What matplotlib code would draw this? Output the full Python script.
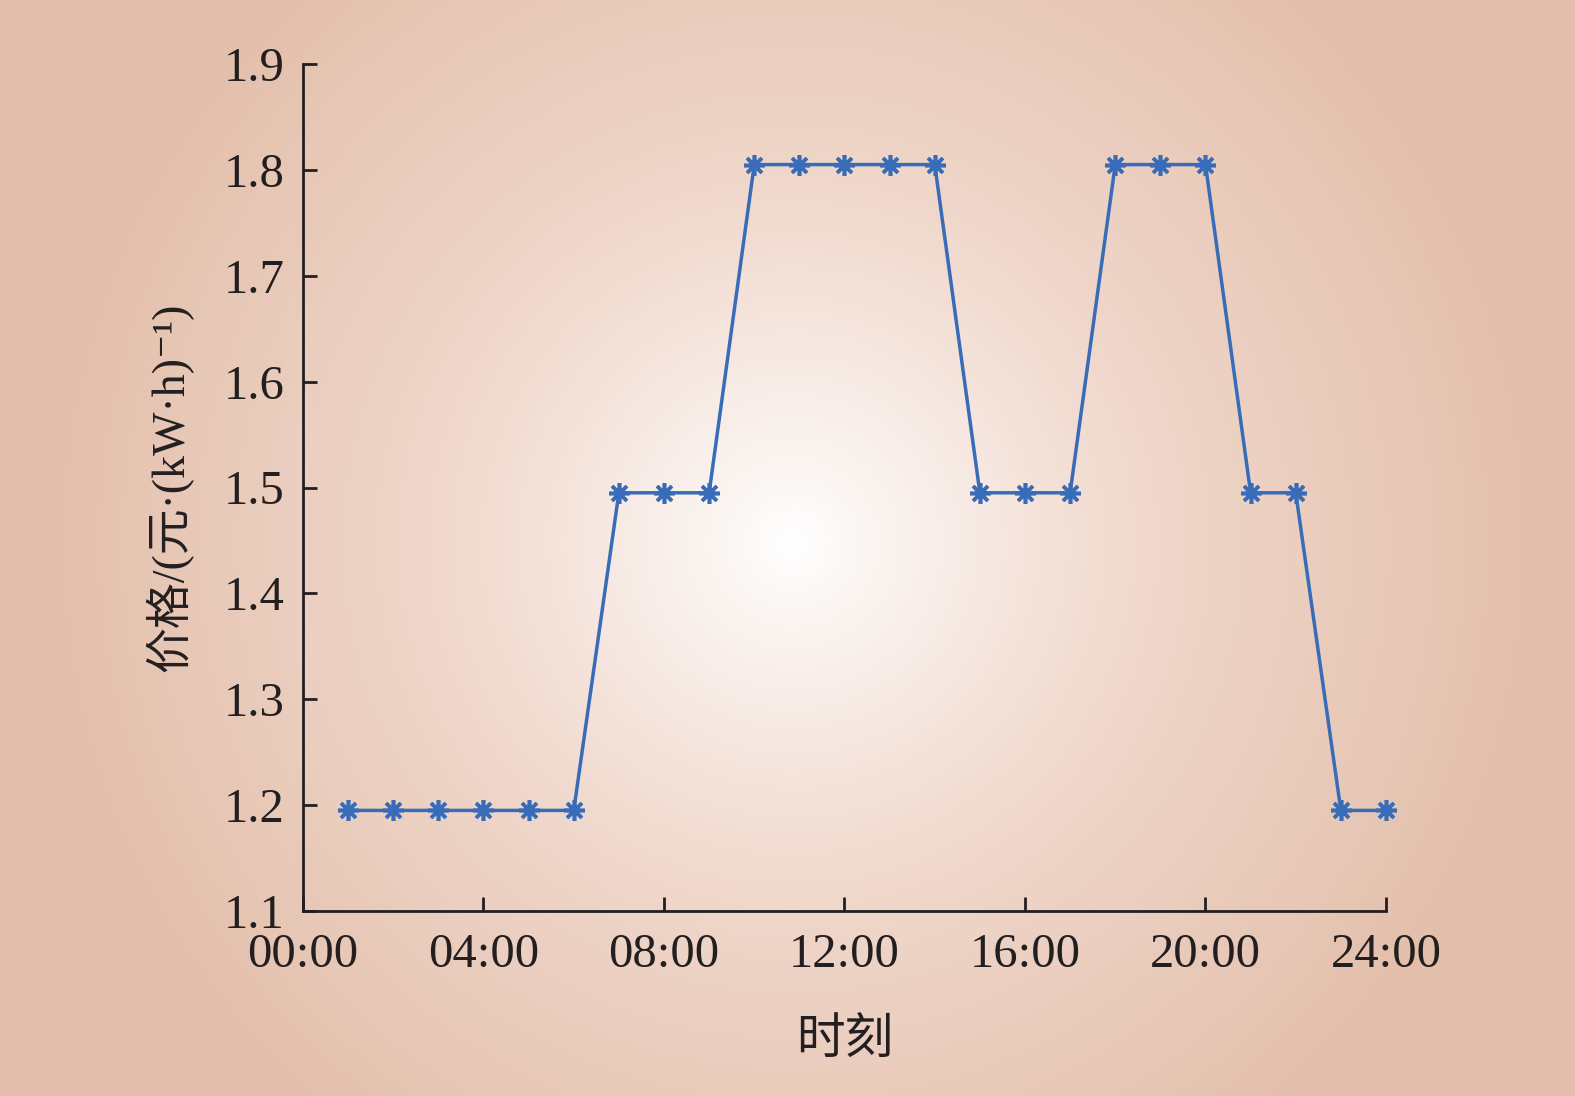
import numpy as np
import matplotlib.pyplot as plt
from matplotlib.colors import LinearSegmentedColormap

hours = list(range(1, 25))
price = [1.195, 1.195, 1.195, 1.195, 1.195, 1.195,
         1.495, 1.495, 1.495,
         1.805, 1.805, 1.805, 1.805, 1.805,
         1.495, 1.495, 1.495,
         1.805, 1.805, 1.805,
         1.495, 1.495,
         1.195, 1.195]
xticks = [0, 4, 8, 12, 16, 20, 24]
xticklabels = ['00:00', '04:00', '08:00', '12:00', '16:00', '20:00', '24:00']
yticks = [1.1, 1.2, 1.3, 1.4, 1.5, 1.6, 1.7, 1.8, 1.9]

plt.rcParams['font.family'] = ['Liberation Serif', 'DejaVu Serif', 'Noto Sans CJK SC']

W, H = 1575, 1096
fig = plt.figure(figsize=(W / 100, H / 100), dpi=100)

# radial background
bg = fig.add_axes([0, 0, 1, 1])
yy, xx = np.mgrid[0:H, 0:W]
r = np.sqrt((xx - 793) ** 2 + (yy - 542) ** 2) / 760
r = np.clip(r, 0, 1) ** 0.9
cmap = LinearSegmentedColormap.from_list('bg', ['#ffffff', '#f0d8cc', '#e3bfab'])
bg.imshow(r, cmap=cmap, vmin=0, vmax=1, aspect='auto', extent=[0, 1, 0, 1])
bg.axis('off')

ax = fig.add_axes([303 / W, 1 - 911 / H, (1386 - 303) / W, (911 - 64) / H])
ax.patch.set_alpha(0)
ax.plot(hours, price, color='#386cb8', lw=2.5, marker=(8, 2, 0),
        markersize=15, markeredgewidth=2.6, clip_on=False)

ax.set_xlim(0, 24)
ax.set_ylim(1.1, 1.9)
ax.set_xticks(xticks)
ax.set_xticklabels(xticklabels)
ax.set_yticks(yticks)
ax.set_yticklabels(['%.1f' % v for v in yticks])
ax.tick_params(direction='in', length=10, width=2, labelsize=35, colors='#231f20')
ax.tick_params(axis='x', pad=16)
ax.tick_params(axis='y', pad=13)
for s in ['top', 'right']:
    ax.spines[s].set_visible(False)
for s in ['left', 'bottom']:
    ax.spines[s].set_linewidth(2)
    ax.spines[s].set_color('#231f20')

ax.set_xlabel('时刻', fontsize=35, color='#231f20', labelpad=30)
ax.set_ylabel('价格/(元·(kW·h)⁻¹)', fontsize=33, color='#231f20', labelpad=22)

fig.savefig('out.png', dpi=100)
